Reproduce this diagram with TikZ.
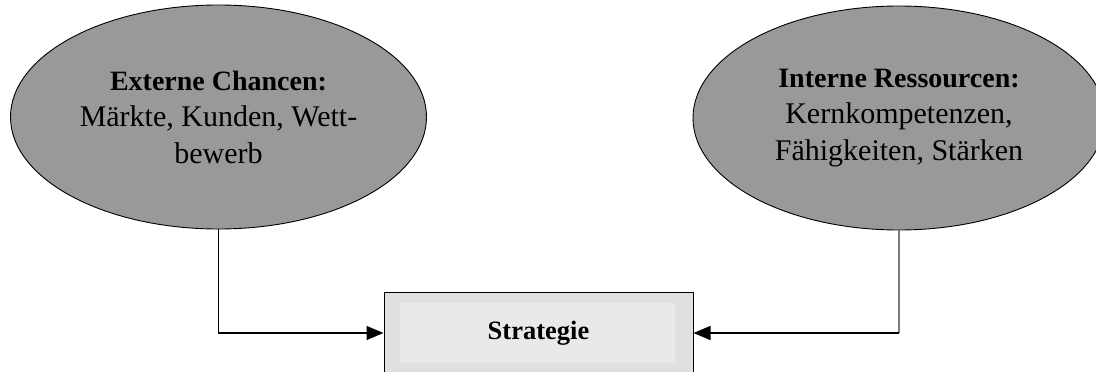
\documentclass[tikz,border=0pt]{standalone}
\usepackage{fontspec}
\setmainfont{Liberation Serif}
\usetikzlibrary{shapes.geometric,arrows.meta,calc}

\definecolor{ovalfill}{HTML}{999999}
\definecolor{boxouter}{HTML}{E0E0E0}
\definecolor{boxinner}{HTML}{E9E9E9}
\definecolor{greyline}{HTML}{7A7A7A}

\newcommand{\ovalhead}[1]{{\fontsize{28}{36.5}\selectfont\bfseries #1}}

\tikzset{
  oval/.style={ellipse, draw=black, line width=0.9pt, fill=ovalfill,
    inner sep=0pt, align=center,
    font=\fontsize{30}{36.5}\selectfont},
  stratbox/.style={rectangle, draw=black, line width=1pt, fill=boxouter,
    inner sep=0pt, minimum width=309pt, minimum height=82pt,
    font=\fontsize{26.5}{30}\selectfont\bfseries,
    path picture={\fill[boxinner]
      ($(path picture bounding box.north west)+(16pt,-11pt)$) rectangle
      ($(path picture bounding box.south east)+(-18pt,11pt)$);}},
  link/.style={draw=black, line width=1.3pt},
  tip/.style={-{Triangle[length=17pt,width=14pt]}}
}

\begin{document}
\begin{tikzpicture}[x=1pt,y=-1pt]
  \useasboundingbox (0,0) rectangle (1096,372);
  \clip (0,0) rectangle (1096,372);

  % opportunities and resources
  \node[oval, minimum width=416pt, minimum height=224pt] (ext) at (218.5,117)
    {\ovalhead{Externe Chancen:}\\Märkte, Kunden, Wett-\\bewerb};
  \node[oval, minimum width=412pt, minimum height=224pt] (int) at (899,118)
    {\ovalhead{Interne Ressourcen:}\\Kernkompetenzen,\\Fähigkeiten, Stärken};

  % resulting strategy
  \node[stratbox] (strat) at (538.5,333) {Strategie};

  % connectors
  \draw[link, tip] (ext.south) |- (strat.west);
  \coordinate (rc) at (int.south |- strat.east);
  \draw[link, draw=greyline] (int.south) -- (rc);
  \draw[link, tip] (rc) -- (strat.east);
\end{tikzpicture}
\end{document}
